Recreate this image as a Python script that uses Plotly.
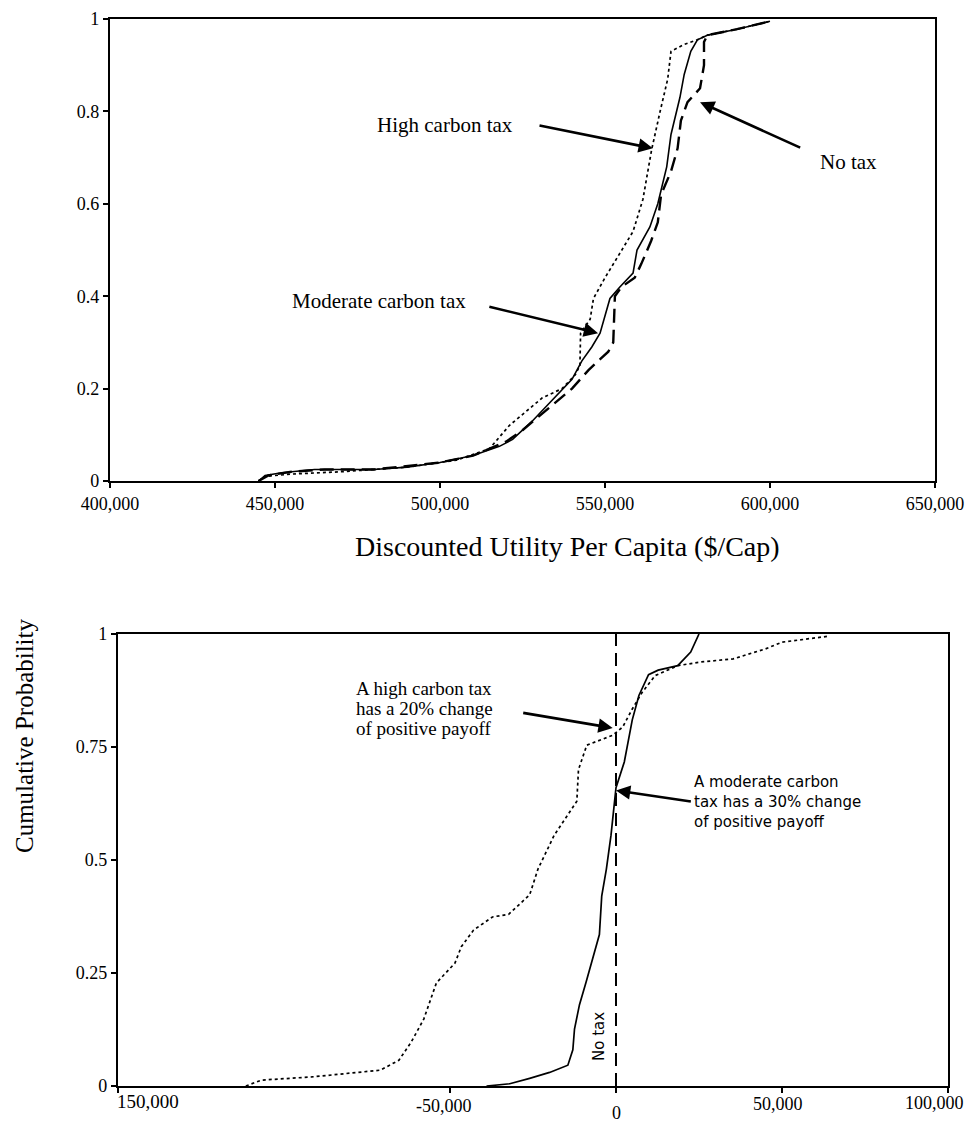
import plotly.graph_objects as go

# ---------------- data: top chart (x in $, y cumulative probability) ----------------
mod_x = [445000, 447000, 452000, 462000, 480000, 490000, 500000, 510000, 518000, 522000,
         528000, 532000, 536000, 540000, 543000, 546000, 548500, 550000, 551500, 554500,
         558500, 559700, 563600, 566000, 568700, 570000, 572700, 574000, 576000, 578000,
         581000, 590000, 600000]
mod_y = [0.0, 0.012, 0.018, 0.025, 0.025, 0.03, 0.04, 0.055, 0.075, 0.09,
         0.13, 0.16, 0.19, 0.22, 0.26, 0.29, 0.32, 0.36, 0.395, 0.42,
         0.45, 0.50, 0.55, 0.60, 0.68, 0.75, 0.83, 0.88, 0.93, 0.955,
         0.965, 0.978, 0.995]

notax_x = [445000, 448000, 455000, 465000, 480000, 500000, 510000, 520000, 525000, 530000,
           535000, 540000, 545000, 548000, 551000, 552500, 553000, 555000, 559000, 561000,
           564000, 566000, 567000, 570000, 572000, 573000, 575000, 578800, 580000, 580000,
           581000, 590000, 600000]
notax_y = [0.0, 0.012, 0.02, 0.025, 0.025, 0.04, 0.055, 0.085, 0.11, 0.14,
           0.17, 0.20, 0.24, 0.26, 0.28, 0.30, 0.40, 0.42, 0.44, 0.47,
           0.52, 0.56, 0.62, 0.67, 0.72, 0.78, 0.82, 0.85, 0.90, 0.95,
           0.965, 0.978, 0.995]

high_x = [445000, 447000, 455000, 470000, 490000, 505000, 515000, 521000, 526000, 531000,
          537000, 541000, 542400, 542600, 545500, 546500, 550000, 552500, 555000, 558500,
          561500, 562700, 564100, 566700, 569000, 570000, 574000, 578000, 581000, 590000,
          600000]
high_y = [0.0, 0.01, 0.015, 0.02, 0.03, 0.045, 0.07, 0.12, 0.15, 0.18,
          0.20, 0.23, 0.25, 0.32, 0.35, 0.395, 0.44, 0.47, 0.50, 0.54,
          0.61, 0.66, 0.716, 0.80, 0.87, 0.93, 0.945, 0.955, 0.965, 0.978,
          0.995]

top_xticks = [400000, 450000, 500000, 550000, 600000, 650000]
top_xticklabels = ["400,000", "450,000", "500,000", "550,000", "600,000", "650,000"]
top_yticks = [0, 0.2, 0.4, 0.6, 0.8, 1]
top_yticklabels = ["0", "0.2", "0.4", "0.6", "0.8", "1"]

# ---------------- data: bottom chart (change vs. no tax) ----------------
bmod_x = [-39000, -32000, -26000, -20000, -14500, -13000, -12500, -11000, -9000, -7000,
          -5000, -4300, -2900, -1500, 0, 2500, 4900, 6900, 9800, 12700, 18600, 22500, 25000]
bmod_y = [0.0, 0.005, 0.017, 0.03, 0.046, 0.08, 0.126, 0.18, 0.23, 0.28,
          0.335, 0.42, 0.48, 0.555, 0.66, 0.717, 0.81, 0.864, 0.91, 0.92, 0.93, 0.96, 1.0]

bhigh_x = [-111500, -106800, -91700, -71000, -65400, -61700, -57900, -54100, -48500, -46600,
           -42900, -37200, -32300, -26000, -23500, -18600, -11800, -11300, -8800, -1000,
           2000, 4900, 7800, 11800, 18600, 25500, 35300, 45000, 50000, 64000]
bhigh_y = [0.0, 0.013, 0.02, 0.035, 0.057, 0.097, 0.148, 0.228, 0.272, 0.308,
           0.345, 0.374, 0.38, 0.423, 0.48, 0.555, 0.63, 0.70, 0.754, 0.776,
           0.794, 0.834, 0.87, 0.908, 0.93, 0.938, 0.945, 0.967, 0.982, 0.995]

bnotax_x = [0, 0]
bnotax_y = [0, 1]

bot_xticks = [-150000, -50000, 0, 50000, 100000]
bot_xticklabels = ["150,000", "-50,000", "0", "50,000", "100,000"]
bot_yticks = [0, 0.25, 0.5, 0.75, 1]
bot_yticklabels = ["0", "0.25", "0.5", "0.75", "1"]

high_note = ["A high carbon tax", "has a 20% change", "of positive payoff"]
mod_note = ["A moderate carbon", "tax has a 30% change", "of positive payoff"]

# ---------------- figure ----------------
# the page body keeps its default 8px margin, so the figure is drawn 8px in from the
# top-left corner of the 975x1127 window; size it to fill the rest exactly.
PAGE_W, PAGE_H, BODY = 975, 1127, 8
W, H = PAGE_W - BODY, PAGE_H - BODY
SERIF = "Liberation Serif"
SANS = "DejaVu Sans"


def sx(v):
    """screen x pixel -> paper fraction"""
    return (v - BODY) / W


def sy(v):
    """screen y pixel -> paper fraction"""
    return 1 - (v - BODY) / H


fig = go.Figure()

fig.add_trace(go.Scatter(x=high_x, y=high_y, mode="lines", xaxis="x", yaxis="y",
                         line=dict(color="black", width=1.7, dash="dot"), name="High carbon tax"))
fig.add_trace(go.Scatter(x=mod_x, y=mod_y, mode="lines", xaxis="x", yaxis="y",
                         line=dict(color="black", width=1.6), name="Moderate carbon tax"))
fig.add_trace(go.Scatter(x=notax_x, y=notax_y, mode="lines", xaxis="x", yaxis="y",
                         line=dict(color="black", width=2.4, dash="14px,7px"), name="No tax"))

fig.add_trace(go.Scatter(x=bhigh_x, y=bhigh_y, mode="lines", xaxis="x2", yaxis="y2",
                         line=dict(color="black", width=1.7, dash="dot"), name="High carbon tax"))
fig.add_trace(go.Scatter(x=bmod_x, y=bmod_y, mode="lines", xaxis="x2", yaxis="y2",
                         line=dict(color="black", width=1.7), name="Moderate carbon tax"))
fig.add_trace(go.Scatter(x=bnotax_x, y=bnotax_y, mode="lines", xaxis="x2", yaxis="y2",
                         line=dict(color="black", width=2, dash="13px,7px"), name="No tax"))

axis_common = dict(showline=True, mirror=True, linecolor="black", linewidth=2.2,
                   ticks="outside", ticklen=5, tickwidth=2, tickcolor="black",
                   showgrid=False, zeroline=False, automargin=False,
                   tickfont=dict(family=SERIF, size=18, color="black"))

fig.update_layout(
    width=W, height=H,
    margin=dict(l=0, r=0, t=0, b=0),
    paper_bgcolor="white", plot_bgcolor="white",
    showlegend=False,
    xaxis=dict(domain=[sx(110), sx(935)], range=[400000, 650000], tickvals=top_xticks,
               ticktext=top_xticklabels, anchor="y", **axis_common),
    yaxis=dict(domain=[sy(481), sy(19)], range=[0, 1], tickvals=top_yticks,
               ticktext=top_yticklabels, anchor="x", **axis_common),
    xaxis2=dict(domain=[sx(118), sx(948)], range=[-150000, 100000], tickvals=bot_xticks,
                ticktext=bot_xticklabels, showticklabels=False, anchor="y2", **axis_common),
    yaxis2=dict(domain=[sy(1086), sy(634)], range=[0, 1], tickvals=bot_yticks,
                ticktext=bot_yticklabels, anchor="x2", **axis_common),
)

ann = []
tfont = dict(family=SERIF, size=21, color="black")
# top chart labels
ann.append(dict(x=522700, y=0.77, xref="x", yref="y", text="High carbon tax", showarrow=False,
                xanchor="right", yanchor="middle", font=tfont))
ann.append(dict(x=508500, y=0.389, xref="x", yref="y", text="Moderate carbon tax", showarrow=False,
                xanchor="right", yanchor="middle", font=tfont))
ann.append(dict(x=614500, y=0.69, xref="x", yref="y", text="No tax", showarrow=False,
                xanchor="left", yanchor="middle", font=tfont))
arrow = dict(showarrow=True, arrowhead=2, arrowsize=1.1, arrowwidth=2.6, arrowcolor="black",
             text="", axref="x", ayref="y", xref="x", yref="y")
ann.append(dict(arrow, x=564500, y=0.72, ax=529700, ay=0.77))
ann.append(dict(arrow, x=547900, y=0.32, ax=514500, ay=0.378))
ann.append(dict(arrow, x=578800, y=0.82, ax=609600, ay=0.72))

# bottom x tick labels (irregular placement as in the original print)
lab_xshift = [30, -6, 0, -4, -14]
lab_yshift = [-3, -8, -15, -6, -5]
lab_size = [19, 18, 18, 18, 18]
for tv, tt, xs, ys, sz in zip(bot_xticks, bot_xticklabels, lab_xshift, lab_yshift, lab_size):
    ann.append(dict(x=tv, y=0, xref="x2", yref="y2", text=tt, showarrow=False,
                    xanchor="center", yanchor="top", xshift=xs, yshift=ys,
                    font=dict(family=SERIF, size=sz, color="black")))

# bottom chart labels
high_line_y = [0.88, 0.835, 0.79]
for txt, yy in zip(high_note, high_line_y):
    ann.append(dict(x=-79000, y=yy, xref="x2", yref="y2", text=txt, showarrow=False,
                    xanchor="left", yanchor="middle",
                    font=dict(family=SERIF, size=19, color="black")))
mod_line_y = [0.673, 0.629, 0.585]
for txt, yy in zip(mod_note, mod_line_y):
    ann.append(dict(x=23000, y=yy, xref="x2", yref="y2", text=txt, showarrow=False,
                    xanchor="left", yanchor="middle",
                    font=dict(family=SANS, size=15, color="black")))
ann.append(dict(x=-4900, y=0.11, xref="x2", yref="y2", text="No tax", textangle=-90,
                showarrow=False, xanchor="center", yanchor="middle",
                font=dict(family=SANS, size=15, color="black")))
arrow2 = dict(showarrow=True, arrowhead=2, arrowsize=1.1, arrowwidth=2.6, arrowcolor="black",
              text="", axref="x2", ayref="y2", xref="x2", yref="y2")
ann.append(dict(arrow2, x=-1000, y=0.792, ax=-28400, ay=0.826))
ann.append(dict(arrow2, x=0, y=0.654, ax=23000, ay=0.629))

# axis titles
ann.append(dict(x=sx(567), y=sy(546), xref="paper", yref="paper",
                text="Discounted Utility Per Capita ($/Cap)", showarrow=False,
                xanchor="center", yanchor="middle",
                font=dict(family=SERIF, size=28, color="black")))
ann.append(dict(x=sx(24), y=sy(736), xref="paper", yref="paper",
                text="Cumulative Probability", showarrow=False, textangle=-90,
                xanchor="center", yanchor="middle",
                font=dict(family=SERIF, size=25, color="black")))

fig.update_layout(annotations=ann)
fig.write_html("out.html")
